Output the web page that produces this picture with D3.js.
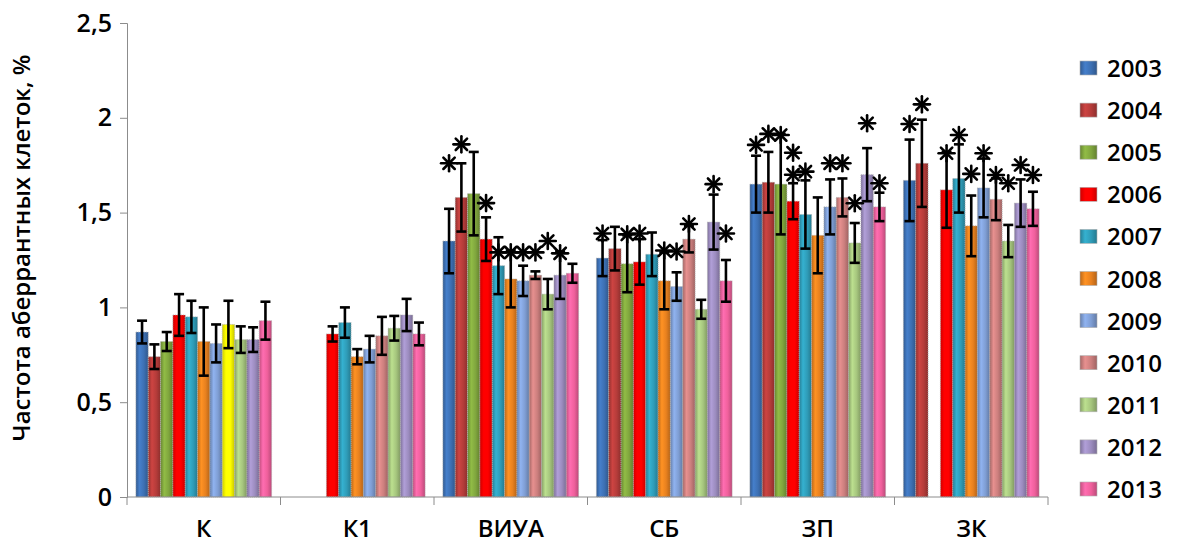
<!DOCTYPE html>
<html>
<head>
<meta charset="utf-8">
<script src="https://cdn.jsdelivr.net/npm/d3@7"></script>
<style>
  body { margin:0; background:#fff; }
  svg text { font-family: "Open Sans", "Noto Sans", "DejaVu Sans", sans-serif; fill:#000; font-weight:600; }
</style>
</head>
<body>
<svg id="chart" width="1177" height="553"></svg>
<script>
// categories and years
const categories = ['К', 'К1', 'ВИУА', 'СБ', 'ЗП', 'ЗК'];
const years = ['2003','2004','2005','2006','2007','2008','2009','2010','2011','2012','2013'];

// values per category (one entry per year, null = no bar)
const valK    = [0.87, 0.74, 0.82, 0.96, 0.95, 0.82, 0.81, 0.91, 0.83, 0.83, 0.93];
const valK1   = [null, null, null, 0.86, 0.92, 0.74, 0.78, 0.85, 0.89, 0.96, 0.86];
const valVIUA = [1.35, 1.58, 1.60, 1.36, 1.22, 1.15, 1.14, 1.17, 1.07, 1.17, 1.18];
const valSB   = [1.26, 1.31, 1.23, 1.24, 1.28, 1.14, 1.11, 1.36, 0.99, 1.45, 1.14];
const valZP   = [1.65, 1.66, 1.65, 1.56, 1.49, 1.38, 1.53, 1.58, 1.34, 1.70, 1.53];
const valZK   = [1.67, 1.76, null, 1.62, 1.68, 1.43, 1.63, 1.57, 1.35, 1.55, 1.52];

// error (+/-) per category
const errK    = [0.06, 0.065, 0.05, 0.11, 0.085, 0.18, 0.10, 0.125, 0.07, 0.065, 0.10];
const errK1   = [null, null, null, 0.04, 0.08, 0.04, 0.07, 0.10, 0.065, 0.085, 0.06];
const errVIUA = [0.17, 0.18, 0.22, 0.115, 0.15, 0.15, 0.08, 0.02, 0.08, 0.125, 0.05];
const errSB   = [0.095, 0.115, 0.15, 0.12, 0.115, 0.15, 0.075, 0.07, 0.05, 0.145, 0.11];
const errZP   = [0.15, 0.16, 0.265, 0.095, 0.18, 0.20, 0.145, 0.10, 0.105, 0.14, 0.075];
const errZK   = [0.215, 0.23, null, 0.20, 0.18, 0.16, 0.155, 0.11, 0.085, 0.125, 0.09];

// significance marks: [category, year, level]
const stars = [
  ['ВИУА','2003',1.76],['ВИУА','2004',1.86],['ВИУА','2006',1.55],['ВИУА','2007',1.29],
  ['ВИУА','2008',1.29],['ВИУА','2009',1.29],['ВИУА','2010',1.29],['ВИУА','2011',1.35],['ВИУА','2012',1.285],
  ['СБ','2003',1.39],['СБ','2005',1.385],['СБ','2006',1.39],['СБ','2008',1.30],['СБ','2009',1.295],
  ['СБ','2010',1.44],['СБ','2012',1.65],['СБ','2013',1.39],
  ['ЗП','2003',1.857],['ЗП','2004',1.915],['ЗП','2005',1.909],['ЗП','2006',1.70],['ЗП','2006',1.816],
  ['ЗП','2007',1.716],['ЗП','2009',1.76],['ЗП','2010',1.76],['ЗП','2011',1.549],['ЗП','2012',1.971],['ЗП','2013',1.655],
  ['ЗК','2003',1.967],['ЗК','2004',2.071],['ЗК','2006',1.813],['ЗК','2007',1.909],['ЗК','2008',1.704],
  ['ЗК','2009',1.813],['ЗК','2010',1.698],['ЗК','2011',1.655],['ЗК','2012',1.751],['ЗК','2013',1.698]
];

const yTicks = [0, 0.5, 1, 1.5, 2, 2.5];
const yTitle = 'Частота аберрантных клеток, %';

const colors = ['#3d70b3','#b53c3a','#80a63e','#ff0000','#2f9cb8','#e8811f',
                '#7f9ed4','#cc7f7e','#a6c67e','#9c8cbf','#f0609c'];
const highlight = '#ffff00'; // the one yellow bar in group К

const valueTable = [valK, valK1, valVIUA, valSB, valZP, valZK];
const errTable   = [errK, errK1, errVIUA, errSB, errZP, errZK];

const data = [];
categories.forEach((c, ci) => {
  years.forEach((yr, yi) => {
    const v = valueTable[ci][yi];
    if (v == null) return;
    data.push({cat:c, year:yr, yi:yi, value:v, err:errTable[ci][yi]});
  });
});

const svg = d3.select('#chart');
const pLeft = 127, pRight = 1048, pTop = 23, pBottom = 497;

const x0 = d3.scaleBand().domain(categories).range([pLeft, pRight]).padding(0);
const x1 = d3.scaleBand().domain(years).range([0, x0.bandwidth()]).paddingInner(0).paddingOuter(0.72);
const y = d3.scaleLinear().domain([0, 2.5]).range([pBottom, pTop]);

// gradients for the bevelled look
const defs = svg.append('defs');
function gradId(col) { return 'g' + col.replace('#',''); }
colors.concat([highlight]).forEach(col => {
  const c = d3.color(col);
  const g = defs.append('linearGradient').attr('id', gradId(col))
    .attr('x1','0%').attr('x2','100%').attr('y1','0%').attr('y2','0%');
  g.append('stop').attr('offset','0%').attr('stop-color', c.darker(0.6));
  g.append('stop').attr('offset','30%').attr('stop-color', c.brighter(0.35));
  g.append('stop').attr('offset','65%').attr('stop-color', c);
  g.append('stop').attr('offset','100%').attr('stop-color', c.darker(0.7));
});
function barColor(d) {
  if (d.cat === 'К' && d.year === '2010') return highlight;
  return colors[d.yi];
}

// y axis
const yAxis = svg.append('g').attr('transform', `translate(${pLeft},0)`)
  .call(d3.axisLeft(y).tickValues(yTicks).tickSize(7).tickPadding(8)
    .tickFormat(d => String(d).replace('.', ',')));
yAxis.select('.domain').attr('stroke', '#8c8c8c');
yAxis.selectAll('.tick line').attr('stroke', '#8c8c8c');
yAxis.selectAll('text').style('font-size', '25px').style('font-family', null).attr('fill', '#000');

svg.append('text')
  .attr('transform', `translate(30,248) rotate(-90)`)
  .attr('text-anchor', 'middle')
  .style('font-size', '24px')
  .text(yTitle);

// bars
svg.append('g').selectAll('rect').data(data).join('rect')
  .attr('x', d => x0(d.cat) + x1(d.year))
  .attr('width', x1.bandwidth())
  .attr('y', d => y(d.value))
  .attr('height', d => y(0) - y(d.value))
  .attr('fill', d => `url(#${gradId(barColor(d))})`)
  .attr('stroke', '#b0b0b0').attr('stroke-width', 0.8).attr('stroke-dasharray', '1,1');

// x axis
const xAxis = svg.append('g');
xAxis.append('line').attr('x1', pLeft).attr('x2', pRight).attr('y1', y(0)).attr('y2', y(0))
  .attr('stroke', '#8c8c8c');
const bounds = categories.map(c => x0(c)).concat([pRight]);
xAxis.selectAll('line.tk').data(bounds).join('line').attr('class','tk')
  .attr('x1', d => d).attr('x2', d => d).attr('y1', y(0)).attr('y2', y(0) + 8)
  .attr('stroke', '#8c8c8c');
xAxis.selectAll('text').data(categories).join('text')
  .attr('x', d => x0(d) + x0.bandwidth() / 2)
  .attr('y', 537)
  .attr('text-anchor', 'middle')
  .style('font-size', '24px')
  .text(d => d);

// error bars
const cap = 5;
const eb = svg.append('g').attr('stroke', '#000').attr('stroke-width', 2.6);
data.forEach(d => {
  const cx = x0(d.cat) + x1(d.year) + x1.bandwidth() / 2;
  const yt = y(d.value + d.err), yb = y(d.value - d.err);
  eb.append('line').attr('x1', cx).attr('x2', cx).attr('y1', yt).attr('y2', yb);
  eb.append('line').attr('x1', cx - cap).attr('x2', cx + cap).attr('y1', yt).attr('y2', yt);
  eb.append('line').attr('x1', cx - cap).attr('x2', cx + cap).attr('y1', yb).attr('y2', yb);
});

// asterisks
const r = 8;
const starG = svg.append('g').attr('stroke', '#000').attr('stroke-width', 2.6).attr('stroke-linecap', 'round');
stars.forEach(s => {
  const cx = x0(s[0]) + x1(s[1]) + x1.bandwidth() / 2;
  const cy = y(s[2]);
  [0, 45, 90, 135].forEach(a => {
    const rad = a * Math.PI / 180;
    starG.append('line')
      .attr('x1', cx - r * Math.cos(rad)).attr('y1', cy - r * Math.sin(rad))
      .attr('x2', cx + r * Math.cos(rad)).attr('y2', cy + r * Math.sin(rad));
  });
});

// legend
const legend = svg.append('g');
const legY = d3.scalePoint().domain(years).range([68, 489]);
years.forEach((yr, i) => {
  legend.append('rect').attr('x', 1080).attr('y', legY(yr) - 7).attr('width', 17).attr('height', 14)
    .attr('fill', `url(#${gradId(colors[i])})`).attr('stroke', '#b0b0b0').attr('stroke-width', 0.6);
  legend.append('text').attr('x', 1107).attr('y', legY(yr) + 9)
    .style('font-size', '24px').text(yr);
});
</script>
</body>
</html>
